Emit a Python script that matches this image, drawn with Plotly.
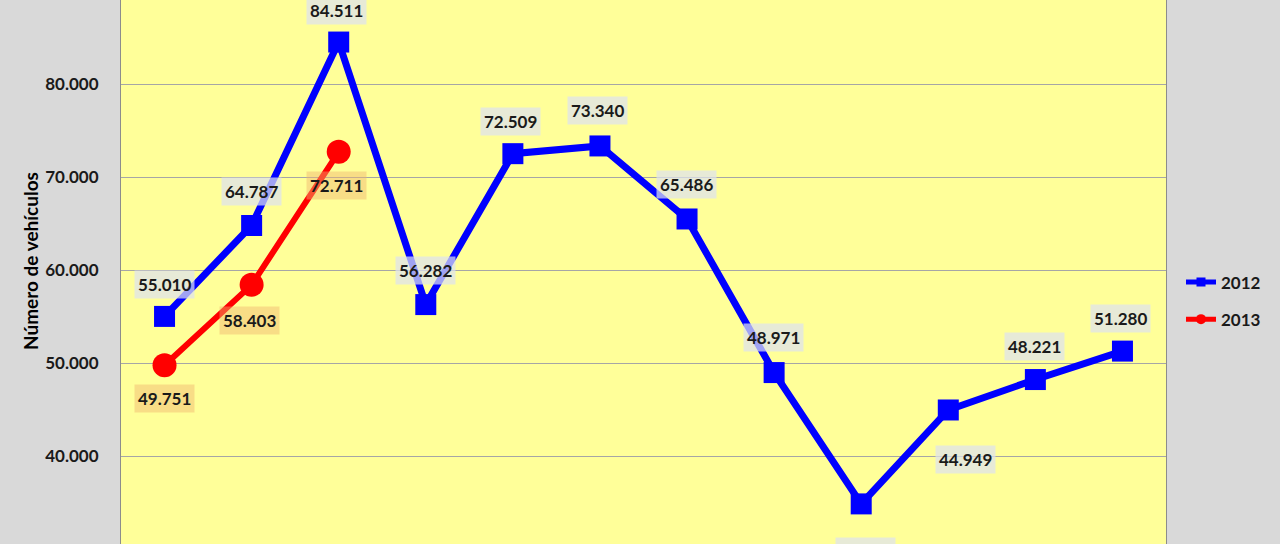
import plotly.graph_objects as go

months = ["Ene", "Feb", "Mar", "Abr", "May", "Jun", "Jul", "Ago", "Sep", "Oct", "Nov", "Dic"]
v2012 = [55010, 64787, 84511, 56282, 72509, 73340, 65486, 48971, 34850, 44949, 48221, 51280]
v2013 = [49751, 58403, 72711]
series_names = ["2012", "2013"]
y_ticks = [30000, 40000, 50000, 60000, 70000, 80000]

# label offsets (style only), pixels
dx2012 = [0, 0, -2, 0, -2, -2, -1, -1, 4, 17, -1, -2]
dy2012 = [32, 34, 32, 34, 32, 35, 34, 35, -48, -50, 33, 33]
dx2013 = [0, -2, -2]
dy2013 = [-33, -36, -34]

BLUE = "#0000FF"
RED = "#FF0000"
FONT = "Lato"

def fmt(v):
    return f"{v:,.0f}".replace(",", ".")

fig = go.Figure()
fig.add_trace(go.Scatter(
    x=months, y=v2012, mode="lines+markers", name=series_names[0], showlegend=False,
    line=dict(color=BLUE, width=7),
    marker=dict(symbol="square", size=21, color=BLUE),
    cliponaxis=False,
))
fig.add_trace(go.Scatter(
    x=months[:len(v2013)], y=v2013, mode="lines+markers", name=series_names[1], showlegend=False,
    line=dict(color=RED, width=6),
    marker=dict(symbol="circle", size=24, color=RED),
    cliponaxis=False,
))
# legend-only traces
fig.add_trace(go.Scatter(x=[None], y=[None], mode="lines+markers", name=series_names[0],
                         legendgroup="a", line=dict(color=BLUE, width=5),
                         marker=dict(symbol="square", size=9, color=BLUE)))
fig.add_trace(go.Scatter(x=[None], y=[None], mode="lines+markers", name=series_names[1],
                         legendgroup="b", line=dict(color=RED, width=5),
                         marker=dict(symbol="circle", size=10, color=RED)))

anns = []
for i, v in enumerate(v2012):
    anns.append(dict(x=months[i], y=v, xref="x", yref="y", text=fmt(v), showarrow=False,
                     xshift=dx2012[i], yshift=dy2012[i],
                     font=dict(family=FONT, size=17, color="#1a1a1a", weight="bold"),
                     bgcolor="rgba(222,226,238,0.72)", borderpad=3))
for i, v in enumerate(v2013):
    anns.append(dict(x=months[i], y=v, xref="x", yref="y", text=fmt(v), showarrow=False,
                     xshift=dx2013[i], yshift=dy2013[i],
                     font=dict(family=FONT, size=17, color="#1a1a1a", weight="bold"),
                     bgcolor="rgba(240,180,110,0.45)", borderpad=3))
# partially visible bottom tick label
anns.append(dict(x=0, y=0, xref="paper", yref="paper", xanchor="right", yanchor="middle",
                 xshift=-21, yshift=-5, text=fmt(y_ticks[0]), showarrow=False,
                 font=dict(family=FONT, size=17, color="#1a1a1a", weight="bold")))
# y axis title
anns.append(dict(x=(30 - 121) / 1045, y=1 - 261 / 544, xref="paper", yref="paper",
                 xanchor="center", yanchor="middle",
                 text="Número de vehículos", textangle=-90, showarrow=False,
                 font=dict(family=FONT, size=19, color="#000000", weight="bold")))

fig.update_layout(
    width=1280, height=544,
    margin=dict(l=121, r=114, t=0, b=0, autoexpand=False),
    paper_bgcolor="#D9D9D9",
    plot_bgcolor="#FFFF99",
    separators=",.",
    showlegend=True,
    legend=dict(x=1 + 15 / 1045, y=1 - 301 / 544, xanchor="left", yanchor="middle",
                bgcolor="rgba(0,0,0,0)", tracegroupgap=12,
                font=dict(family=FONT, size=17, color="#1a1a1a", weight="bold")),
    annotations=anns,
)
fig.update_xaxes(type="category", range=[-0.5, 11.5], showticklabels=False,
                 showgrid=False, zeroline=False, showline=False, ticks="")
fig.update_yaxes(range=[30538, 89032], tickvals=y_ticks, tickformat=",d",
                 showgrid=True, gridcolor="#A6A6A6", gridwidth=1, zeroline=False,
                 showline=True, linecolor="#8C8C8C", linewidth=1, mirror=True,
                 ticks="", ticklabelstandoff=18,
                 tickfont=dict(family=FONT, size=17, color="#1a1a1a", weight="bold"))

fig.write_html("out.html", config={"displayModeBar": False},
               post_script="document.body.style.margin='0';")
